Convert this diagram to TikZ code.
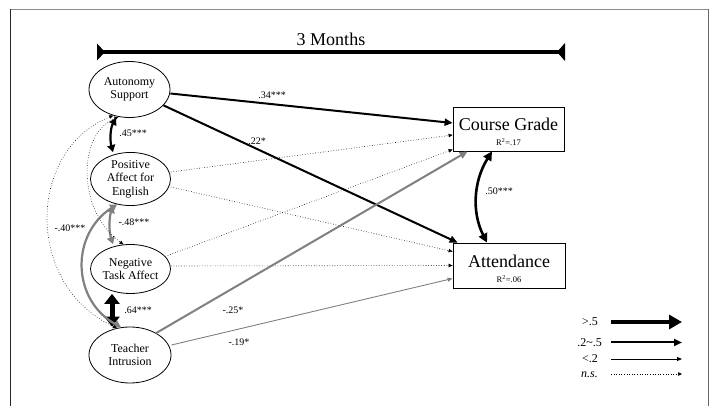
\documentclass[tikz,border=0pt]{standalone}
\usepackage{fontspec}
\setmainfont{Liberation Serif}
\usetikzlibrary{arrows.meta,shapes.geometric,calc}
\begin{document}
\begin{tikzpicture}[x=1pt,y=-1pt,
  latent/.style={draw,ellipse,line width=0.8pt,inner sep=0pt,minimum width=81pt,minimum height=54pt,align=center,font=\fontsize{12}{13.5}\selectfont},
  obs/.style={draw,rectangle,line width=0.8pt,inner sep=0pt,minimum width=111pt,minimum height=44pt,align=center},
  lab/.style={font=\fontsize{10}{11}\selectfont,inner sep=0pt},
  legt/.style={font=\fontsize{12}{13}\selectfont,inner sep=0pt},
  strong/.style={line width=2pt,-{Triangle[length=8pt,width=7pt]}},
  weak/.style={line width=0.9pt,-{Triangle[length=5pt,width=4pt]}},
  nsig/.style={line width=0.6pt,dotted,-{Triangle[length=4pt,width=3.5pt]}},
  gr/.style={color=black!50},
]
\useasboundingbox (0,0) rectangle (713,406);
% frame
\draw[black!45,line width=1.2pt] (10,9.5) -- (709,9.5);
\draw[black!85,line width=1.2pt] (10.5,9.5) -- (10.5,406);
\draw[black!60,line width=1.2pt] (708.5,9.5) -- (708.5,406);
% time bar
\coordinate (tl) at (97,52);
\coordinate (tr) at (565,52);
\draw[line width=4.5pt] (tl) -- (tr);
\fill (tl) ++(0,-8.5) -- ++(8,8.5) -- ++(-8,8.5) -- cycle;
\fill (tr) ++(0,-9) -- ++(-8,9) -- ++(8,9) -- cycle;
\node[font=\fontsize{18}{20}\selectfont,inner sep=0pt] (title) at (331,39) {3 Months};
% nodes
\node[latent,minimum height=56pt] (aut) at (129.5,89.5) {Autonomy\\Support};
\node[latent,minimum width=80pt,minimum height=53pt] (pos) at (130.5,179) {Positive\\Affect for\\English};
\node[latent,minimum width=80pt,minimum height=49pt] (neg) at (130.5,269) {Negative\\Task Affect};
\node[latent,minimum width=82pt,minimum height=56pt] (tea) at (130,355) {Teacher\\Intrusion};
\node[obs] (cg) at (508.5,129) {};
\node[font=\fontsize{18}{20}\selectfont,inner sep=0pt] (cgt) at (508.5,124) {Course Grade};
\node[font=\fontsize{8.5}{9}\selectfont,inner sep=0pt] (cgr) at (508.5,142.5) {R\textsuperscript{2}=.17};
\node[obs,minimum width=112pt,minimum height=45pt] (att) at (509,265.5) {};
\node[font=\fontsize{18}{20}\selectfont,inner sep=0pt] (attt) at (509,261) {Attendance};
\node[font=\fontsize{8.5}{9}\selectfont,inner sep=0pt] (attr) at (509,279) {R\textsuperscript{2}=.06};
% paths to outcomes
\draw[strong] ([yshift=-4pt]aut.east) -- ([yshift=6pt]cg.west);
\draw[strong] (aut.-25) -- ([xshift=5pt]att.north west);
\draw[nsig] ([yshift=7pt]pos.east) -- ([yshift=-6pt]cg.west);
\draw[nsig] ([yshift=-8pt]pos.east) -- ([yshift=14pt]att.west);
\draw[nsig] (neg.20) -- ([yshift=-20.5pt]cg.west);
\draw[nsig] ([yshift=3pt]neg.east) -- (att.west);
\draw[strong,gr] (tea.40) -- ([xshift=15pt]cg.south west);
\draw[weak,gr] ([yshift=10pt]tea.east) -- ([yshift=-13pt]att.west);
\node[lab] (l34) at (272,95.5) {.34***};
\node[lab] (l22) at (257,141) {.22*};
\node[lab] (l25) at (233,310) {-.25*};
\node[lab] (l19) at (239,342) {-.19*};
% outcome correlation
\draw[line width=2.6pt,{Triangle[length=9pt,width=9pt]}-{Triangle[length=9pt,width=9pt]}]
  ([xshift=-16.5pt]cg.south) .. controls (473,182) and (472,213) .. ([xshift=-22pt]att.north);
\node[lab] (l50) at (499,191) {.50***};
% correlations among predictors
\draw[line width=2.2pt,{Triangle[length=7pt,width=8pt]}-{Triangle[length=7pt,width=8pt]}]
  ([xshift=-13.5pt]aut.south) .. controls (110,129) and (110,141) .. ([xshift=-17.5pt]pos.north);
\node[lab] (l45) at (133,133.5) {.45***};
\draw[gr,line width=2.2pt,{Triangle[length=7pt,width=8pt]}-{Triangle[length=7pt,width=8pt]}]
  ([xshift=-17.5pt]pos.south) .. controls (109,218) and (109,232) .. ([xshift=-17.5pt]neg.north);
\node[lab] (l48) at (134,222) {-.48***};
\draw[line width=5pt,{Triangle[length=10pt,width=15pt]}-{Triangle[length=10pt,width=15pt]}]
  ([xshift=-18.5pt]neg.south) -- ([xshift=-18pt]tea.north);
\node[lab] (l64) at (138,310) {.64***};
\draw[gr,line width=2.2pt,{Triangle[length=7pt,width=8pt]}-{Triangle[length=7pt,width=8pt]}]
  (pos.-118) .. controls (70,235) and (72,300) .. (tea.108);
\node[lab] (l40) at (70,228) {-.40***};
\draw[nsig,{Triangle[length=4pt,width=3.5pt]}-{Triangle[length=4pt,width=3.5pt]}]
  (aut.-112) .. controls (76,135) and (78,212) .. (neg.106);
\draw[nsig,{Triangle[length=4pt,width=3.5pt]}-{Triangle[length=4pt,width=3.5pt]}]
  (aut.-122) .. controls (27,150) and (24,285) .. (tea.116);
% legend
\node[legt,anchor=east] (g1) at (598,322) {>.5};
\node[legt,anchor=east] (g2) at (602,342.5) {.2\textasciitilde.5};
\node[legt,anchor=east] (g3) at (598,359) {<.2};
\node[legt,anchor=east] (g4) at (598,374.5) {\textit{n.s.}};
\coordinate (a1) at (611,322); \coordinate (b1) at (682,322);
\coordinate (a2) at (611,342.5); \coordinate (b2) at (682,342.5);
\coordinate (a3) at (611,359); \coordinate (b3) at (682,359);
\coordinate (a4) at (611,374); \coordinate (b4) at (682,374);
\draw[line width=4.5pt,-{Triangle[length=13pt,width=14pt]}] (a1) -- (b1);
\draw[strong] (a2) -- (b2);
\draw[weak] (a3) -- (b3);
\draw[nsig] (a4) -- (b4);
\end{tikzpicture}
\end{document}
